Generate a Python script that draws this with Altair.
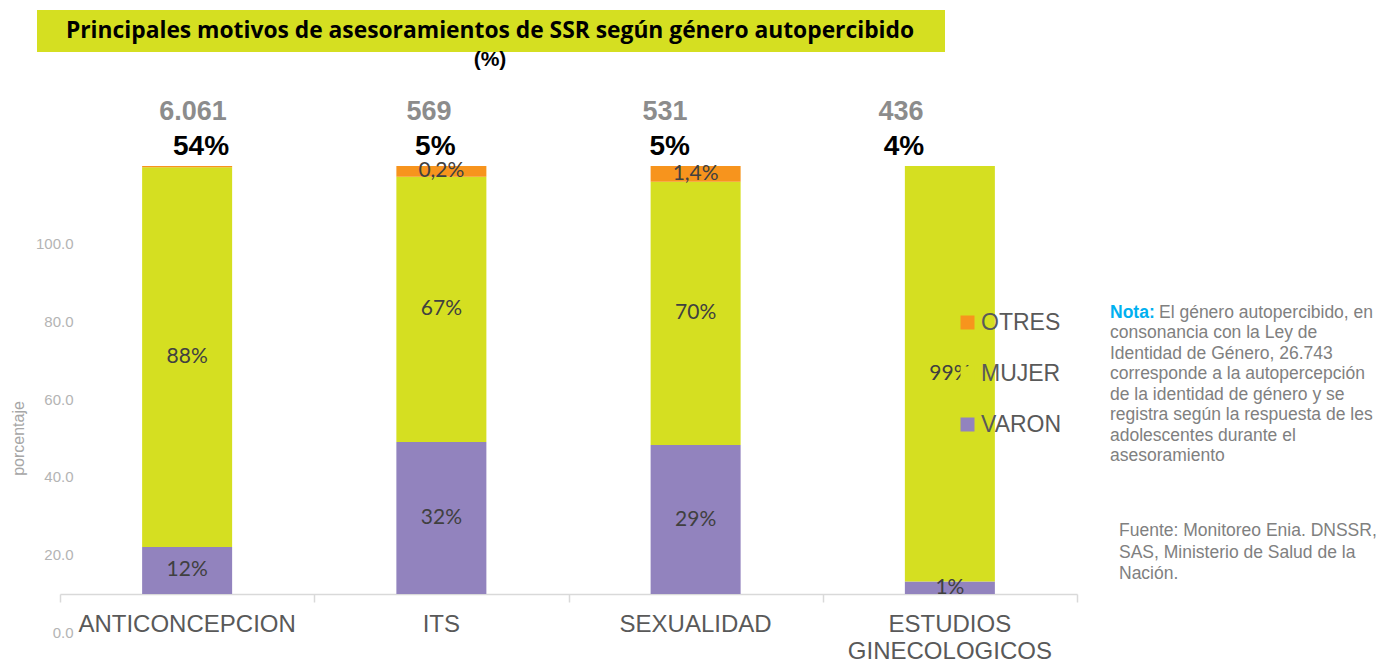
import altair as alt
import pandas as pd

# ---------------- data ----------------
categories = ["ANTICONCEPCION", "ITS", "SEXUALIDAD", "ESTUDIOS GINECOLOGICOS"]
series_names = ["VARON", "MUJER", "OTRES"]
varon = [11.0, 35.5, 34.8, 2.9]
mujer = [88.7, 62.0, 61.5, 97.1]
otres = [0.3, 2.5, 3.7, 0.0]
varon_labels = ["12%", "32%", "29%", "1%"]
mujer_labels = ["88%", "67%", "70%", "99%"]
otres_labels = ["", "0,2%", "1,4%", ""]
totals = ["6.061", "569", "531", "436"]
shares = ["54%", "5%", "5%", "4%"]
y_ticks = [0, 20, 40, 60, 80, 100]

title_text = "Principales motivos de asesoramientos de SSR según género autopercibido"
subtitle_text = "(%)"
nota_head = "Nota:"
nota_first = "El género autopercibido, en"
nota_rest = [
    "consonancia con la Ley de",
    "Identidad de Género, 26.743",
    "corresponde a la autopercepción",
    "de la identidad de género y se",
    "registra según la respuesta de les",
    "adolescentes durante el",
    "asesoramiento",
]
fuente = ["Fuente: Monitoreo Enia. DNSSR,", "SAS, Ministerio de Salud de la", "Nación."]

PURPLE = "#9283BE"
GREEN = "#D5DF21"
ORANGE = "#F7941D"

rows = []
for i, c in enumerate(categories):
    for s, vals, labs, o in [
        ("VARON", varon, varon_labels, 0),
        ("MUJER", mujer, mujer_labels, 1),
        ("OTRES", otres, otres_labels, 2),
    ]:
        rows.append({"category": c, "serie": s, "value": vals[i], "label": labs[i], "order": o})
df = pd.DataFrame(rows)
tot_df = pd.DataFrame({"category": categories, "total": totals, "share": shares, "top": [100] * 4})
tick_df = pd.DataFrame({"tick": y_ticks})
cat_df = pd.DataFrame({"category": categories})

W, H = 1017, 466
BAR_H = 428

label_expr = "datum.value == 'ESTUDIOS GINECOLOGICOS' ? ['ESTUDIOS', 'GINECOLOGICOS'] : datum.label"

x_main = alt.X(
    "category:N",
    scale=alt.Scale(type="band", domain=categories, paddingInner=0.646, paddingOuter=0.323),
    axis=alt.Axis(
        title=None, orient="bottom", offset=-38, labelAngle=0, labelFont="Liberation Sans",
        labelFontSize=24, labelColor="#595959", labelPadding=18, labelLimit=400,
        labelOverlap=False, labelLineHeight=27, labelExpr=label_expr, ticks=False,
        domain=True, domainColor="#D9D9D9", domainWidth=1.5, grid=False,
    ),
)
y_scale = alt.Scale(domain=[0, 100], range=[BAR_H, 0], nice=False, zero=True)

bars = alt.Chart(df).mark_bar().encode(
    x=x_main,
    y=alt.Y("value:Q", stack="zero", scale=y_scale, axis=None),
    color=alt.Color(
        "serie:N",
        scale=alt.Scale(domain=["OTRES", "MUJER", "VARON"], range=[ORANGE, GREEN, PURPLE]),
        legend=alt.Legend(
            orient="none", legendX=896, legendY=145, title=None, symbolType="square",
            symbolSize=196, symbolStrokeWidth=0, labelFont="Liberation Sans", labelFontSize=23,
            labelColor="#595959", rowPadding=27, labelOffset=2,
        ),
    ),
    order=alt.Order("order:Q"),
)

seg = (
    alt.Chart(df)
    .transform_stack(stack="value", groupby=["category"],
                     sort=[alt.SortField("order", order="ascending")], as_=["y0", "y1"])
    .transform_calculate(mid="(datum.y0 + datum.y1) / 2")
    .mark_text(font="Lato", fontSize=21, color="#404040", baseline="middle")
    .encode(x=x_main, y=alt.Y("mid:Q", scale=y_scale, axis=None), text="label:N")
)

main = alt.layer(bars, seg)

# the count / share labels above the bars sit on a slightly narrower spread
cnt = alt.Chart(tot_df).mark_text(
    font="Liberation Sans", fontSize=27, fontWeight="bold", color="#8C8C8C",
    baseline="middle", dy=-54,
).encode(
    x=alt.X("category:N", scale=alt.Scale(type="point", domain=categories, range=[133, 841], padding=0), axis=None),
    y=alt.Y("top:Q", scale=y_scale, axis=None),
    text="total:N",
)

pct = alt.Chart(tot_df).mark_text(
    font="Liberation Sans", fontSize=28, fontWeight="bold", color="#000000",
    baseline="middle", dy=-19,
).encode(
    x=alt.X("category:N", scale=alt.Scale(type="point", domain=categories, range=[141, 844], padding=0), axis=None),
    y=alt.Y("top:Q", scale=y_scale, axis=None),
    text="share:N",
)

yaxis = alt.Chart(tick_df).mark_point(opacity=0).encode(
    y=alt.Y(
        "tick:Q",
        scale=alt.Scale(domain=[0, 120.1], nice=False, zero=False),
        axis=alt.Axis(
            orient="left", values=y_ticks, format=".1f", title="porcentaje", grid=False,
            ticks=False, domain=False, offset=-13, labelPadding=0, labelFont="Liberation Sans",
            labelColor="#B4B4B4", labelFontSize=15, titleColor="#A6A6A6", titleFontSize=16,
            titleFont="Liberation Sans", titleFontWeight="normal", titleX=-55, titleY=272,
            titleBaseline="middle", titleAngle=270,
        ),
    )
)

xticks = alt.Chart(cat_df).mark_point(opacity=0).encode(
    x=alt.X(
        "category:N",
        scale=alt.Scale(type="band", domain=categories, paddingInner=0, paddingOuter=0),
        axis=alt.Axis(
            orient="bottom", offset=-38, tickBand="extent", labels=False, domain=False,
            ticks=True, tickSize=8, tickColor="#D9D9D9", tickWidth=1.5, title=None, grid=False,
        ),
    )
)


def one_row():
    return alt.Data(values=[{"k": 1}])


title_box = alt.Chart(one_row()).mark_rect(color=GREEN).encode(
    x=alt.value(-23), x2=alt.value(885), y=alt.value(-156), y2=alt.value(-114)
)
title_mark = alt.Chart(one_row()).mark_text(
    text=title_text, font="Open Sans", fontSize=22.8, fontWeight="bold", color="#000000",
    align="center", baseline="middle",
).encode(x=alt.value(430), y=alt.value(-135))
subtitle_mark = alt.Chart(one_row()).mark_text(
    text=subtitle_text, font="Liberation Sans", fontSize=21, fontWeight="bold", color="#000000",
    align="center", baseline="middle",
).encode(x=alt.value(430), y=alt.value(-106))

NOTE_FS = 17.5
nota_h = alt.Chart(one_row()).mark_text(
    text=nota_head, font="Liberation Sans", fontSize=NOTE_FS, fontWeight="bold", color="#00B0F0",
    align="left", baseline="middle",
).encode(x=alt.value(1050), y=alt.value(147))
nota_1 = alt.Chart(one_row()).mark_text(
    text=nota_first, font="Liberation Sans", fontSize=NOTE_FS, color="#808080",
    align="left", baseline="middle",
).encode(x=alt.value(1099), y=alt.value(147))
nota_r = alt.Chart(one_row()).mark_text(
    text=nota_rest, font="Liberation Sans", fontSize=NOTE_FS, color="#808080",
    align="left", baseline="middle", lineHeight=20.5,
).encode(x=alt.value(1050), y=alt.value(167))
fuente_m = alt.Chart(one_row()).mark_text(
    text=fuente, font="Liberation Sans", fontSize=NOTE_FS, color="#808080",
    align="left", baseline="middle", lineHeight=21.5,
).encode(x=alt.value(1059), y=alt.value(365))

chart = (
    alt.layer(title_box, main, cnt, pct, yaxis, xticks, title_mark, subtitle_mark,
              nota_h, nota_1, nota_r, fuente_m)
    .resolve_scale(y="independent", x="independent")
    .properties(
        width=W, height=H, autosize=alt.AutoSizeParams(type="none"),
        padding={"left": 52, "top": 158, "right": 301, "bottom": 30},
        background="#FFFFFF",
    )
    .configure_view(stroke=None)
)

chart.save("out.html", embed_options={"renderer": "svg", "actions": False})
